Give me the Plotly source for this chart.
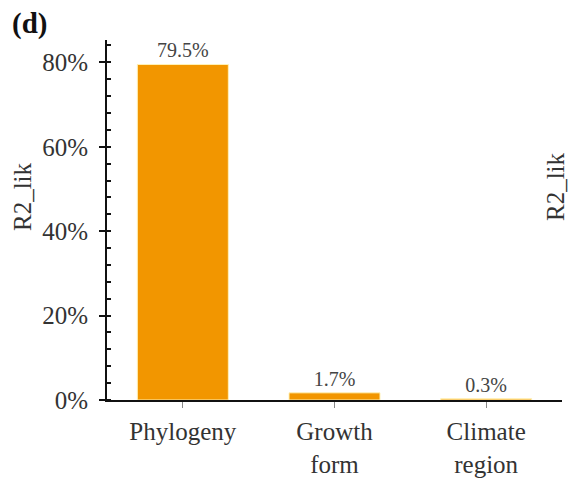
import plotly.graph_objects as go

# Variance explained (R2_lik, %) by each predictor
categories = ["Phylogeny", "Growth<br>form", "Climate<br>region"]
r2_lik = [79.5, 1.7, 0.3]
y_ticks = [0, 20, 40, 60, 80]
y_tick_labels = [f"{t}%" for t in y_ticks]

BAR_COLOR = "#F29600"
SERIF = "Liberation Serif, Times New Roman, serif"

fig = go.Figure()
fig.add_trace(go.Bar(
    x=categories,
    y=r2_lik,
    width=0.6,
    marker=dict(color=BAR_COLOR, line=dict(color="#FFF2B8", width=1)),
    text=[f"{v}%" for v in r2_lik],
    textposition="outside",
    constraintext="none",
    cliponaxis=False,
    textfont=dict(family=SERIF, size=20, color="#444444"),
    hoverinfo="skip",
))

fig.update_layout(
    width=568, height=483,
    margin=dict(l=107, r=6, t=40, b=83),
    paper_bgcolor="white", plot_bgcolor="white",
    showlegend=False,
    bargap=0.4,
    font=dict(family=SERIF, color="#333333"),
)

fig.update_xaxes(
    range=[-0.5, 2.5],
    automargin=False,
    showline=True, linecolor="#111111", linewidth=2,
    ticks="outside", ticklen=6, tickwidth=1, tickcolor="#888888",
    tickfont=dict(family=SERIF, size=25, color="#333333"),
    ticklabelstandoff=2,
    showgrid=False, zeroline=False,
)

fig.update_yaxes(
    range=[0, 85.3],
    automargin=False,
    tickmode="array",
    tickvals=y_ticks,
    ticktext=y_tick_labels,
    showline=True, linecolor="#111111", linewidth=2,
    ticks="outside", ticklen=6, tickwidth=2, tickcolor="#111111",
    minor=dict(dtick=4, tick0=0, ticks="inside", ticklen=4,
               tickwidth=2, tickcolor="#111111", showgrid=False),
    tickfont=dict(family=SERIF, size=25, color="#333333"),
    ticklabelstandoff=6,
    showgrid=False, zeroline=False,
)

# Panel letter
fig.add_annotation(
    text="<b>(d)</b>", xref="paper", yref="paper",
    x=-107 / 455, y=(400 - 24) / 360, xanchor="left", yanchor="middle",
    xshift=10, showarrow=False,
    font=dict(family=SERIF, size=29, color="#111111"),
)

# Y-axis title
fig.add_annotation(
    text="R2_lik", xref="paper", yref="paper",
    x=(22 - 107) / 455, y=(400 - 197) / 360,
    xanchor="center", yanchor="middle", textangle=-90, showarrow=False,
    font=dict(family=SERIF, size=25, color="#333333"),
)

# Y-axis title of the neighbouring panel at the right edge
fig.add_annotation(
    text="R2_lik", xref="paper", yref="paper",
    x=(555 - 107) / 455, y=(400 - 187) / 360,
    xanchor="center", yanchor="middle", textangle=-90, showarrow=False,
    font=dict(family=SERIF, size=25, color="#333333"),
)

fig.write_html("out.html")
